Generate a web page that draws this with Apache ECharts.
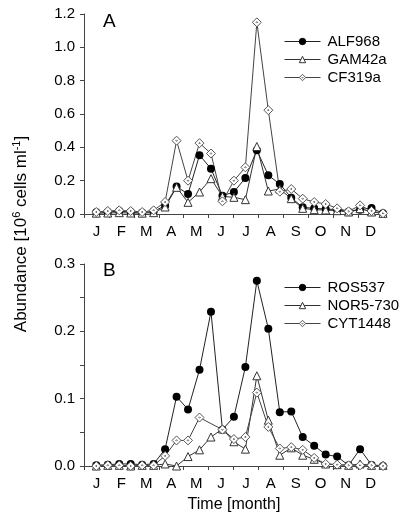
<!DOCTYPE html>
<html><head><meta charset="utf-8">
<script src="https://cdn.jsdelivr.net/npm/echarts@6/dist/echarts.min.js"></script>
<style>html,body{margin:0;padding:0;background:#fff}#c{width:400px;height:521px}</style>
</head><body><div id="c"></div>
<script>
const months = ['J','F','M','A','M','J','J','A','S','O','N','D'];
const days = [15,29,43,57,71,85,99,113,127,141,155,169,183,197,211,225,239,253,267,281,295,309,323,337,351,365];
// Panel A (10^6 cells/ml)
const alf968 = [0.010,0.012,0.018,0.012,0.008,0.015,0.050,0.165,0.120,0.353,0.272,0.110,0.132,0.216,0.383,0.232,0.180,0.098,0.040,0.034,0.030,0.026,0.014,0.026,0.036,0.004];
const gam42a = [0.005,0.006,0.008,0.006,0.005,0.008,0.042,0.160,0.070,0.132,0.212,0.106,0.100,0.086,0.405,0.138,0.150,0.092,0.034,0.026,0.024,0.020,0.012,0.032,0.012,0.004];
const cf319a = [0.012,0.018,0.022,0.018,0.012,0.022,0.072,0.440,0.200,0.425,0.363,0.076,0.200,0.280,1.150,0.623,0.134,0.150,0.092,0.072,0.060,0.034,0.016,0.052,0.018,0.004];
// Panel B
const ros537 = [0.001,0.002,0.003,0.003,0.002,0.003,0.025,0.103,0.084,0.143,0.229,0.054,0.073,0.147,0.275,0.204,0.080,0.081,0.043,0.030,0.017,0.014,0.001,0.025,0.0015,0.000];
const nor5730 = [0.000,0.001,0.001,0.000,0.001,0.001,0.003,0.000,0.014,0.024,0.043,0.055,0.036,0.025,0.134,0.068,0.016,0.027,0.016,0.010,0.003,0.002,0.001,0.003,0.001,0.001];
const cyt1448 = [0.000,0.001,0.001,0.000,0.001,0.001,0.015,0.038,0.038,0.072,null,0.054,0.040,0.043,0.109,0.058,0.026,0.028,0.024,0.012,0.003,0.002,0.001,0.001,0.001,0.000];

const FONT = 'Liberation Sans, Arial, sans-serif';
const pair = arr => days.map((d,i) => [d, arr[i]]);
const diamondPath = 'path://M0,-5L5,0L0,5L-5,0Z M0,-0.8L0.8,0L0,0.8L-0.8,0Z';

function mk(name, data, kind, xi, yi) {
  const s = {name, type:'line', data: pair(data), xAxisIndex: xi, yAxisIndex: yi,
    connectNulls: true, animation: false,
    lineStyle: {color:'#222', width: 1},
    itemStyle: {}, emphasis: {disabled: true}};
  if (kind === 'circle') { s.symbol = 'circle'; s.symbolSize = 8; s.itemStyle = {color:'#000', borderColor:'#000', borderWidth: 0}; }
  if (kind === 'tri') { s.symbol = 'triangle'; s.symbolSize = 8; s.itemStyle = {color:'#fff', borderColor:'#333', borderWidth: 1}; s.lineStyle.color = '#333'; }
  if (kind === 'dia') { s.symbol = diamondPath; s.symbolSize = 9; s.itemStyle = {color:'#fff', borderColor:'#555', borderWidth: 1}; s.lineStyle.color = '#444'; }
  return s;
}

const axisLine = {show:true, lineStyle:{color:'#444', width:1}};
function catAxis(gi) {
  return {type:'category', gridIndex: gi, data: months, boundaryGap: true,
    axisLine, axisTick:{show:true, length:4, lineStyle:{color:'#444'}},
    axisLabel:{color:'#000', fontSize:15, fontFamily: FONT, margin: 10}};
}
function valX(gi) { return {type:'value', gridIndex: gi, min:0, max:365, show:false}; }
function legendCfg(names, top) {
  return {data:names, orient:'vertical', left:279, top:top, itemWidth:36, itemHeight:8, itemGap:3,
    lineStyle:{width:1}, itemStyle:{borderWidth:1},
    textStyle:{color:'#000', fontSize:15, fontFamily: FONT, padding:[0,0,0,2]}, selectedMode:false};
}

const chart = echarts.init(document.getElementById('c'), null, {renderer:'canvas'});
chart.setOption({
  animation: false,
  grid: [
    {left:84, top:14, width:299, height:200},
    {left:84, top:264, width:299, height:202}
  ],
  xAxis: [catAxis(0), valX(0), catAxis(1), valX(1)],
  yAxis: [
    {type:'value', gridIndex:0, min:0, max:1.2, interval:0.2, splitLine:{show:false},
     axisLine, axisTick:{show:true, length:4, lineStyle:{color:'#444'}},
     axisLabel:{color:'#000', fontSize:15, fontFamily: FONT, margin: 9, formatter: v => v.toFixed(1)}},
    {type:'value', gridIndex:1, min:0, max:0.3, interval:0.1, splitLine:{show:false},
     axisLine, axisTick:{show:true, length:4, lineStyle:{color:'#444'}},
     minorTick:{show:true, splitNumber:2, length:4, lineStyle:{color:'#444'}},
     axisLabel:{color:'#000', fontSize:15, fontFamily: FONT, margin: 9, formatter: v => v.toFixed(1)}}
  ],
  legend: [
    legendCfg(['ALF968','GAM42a','CF319a'], 29),
    legendCfg(['ROS537','NOR5-730','CYT1448'], 275)
  ],
  series: [
    mk('ALF968', alf968, 'circle', 1, 0),
    mk('GAM42a', gam42a, 'tri', 1, 0),
    mk('CF319a', cf319a, 'dia', 1, 0),
    mk('ROS537', ros537, 'circle', 3, 1),
    mk('NOR5-730', nor5730, 'tri', 3, 1),
    mk('CYT1448', cyt1448, 'dia', 3, 1)
  ],
  graphic: [
    {type:'text', left:103, top:12, style:{text:'A', fontSize:19, fontFamily: FONT, fill:'#000'}},
    {type:'text', left:103, top:261, style:{text:'B', fontSize:19, fontFamily: FONT, fill:'#000'}},
    {type:'text', x:234, y:505, style:{text:'Time [month]', fontSize:16, fontFamily: FONT, fill:'#000', align:'center', verticalAlign:'middle'}},
    {type:'text', x:21, y:234, rotation: Math.PI/2,
     style:{text:'{n|Abundance [10}{s|6}{n| cells ml}{s|-1}{n|]}', align:'center', verticalAlign:'middle',
       rich:{n:{fontSize:17, fontFamily: FONT, fill:'#000', lineHeight:20},
             s:{fontSize:11, fontFamily: FONT, fill:'#000', verticalAlign:'top', lineHeight:20, padding:[0,0,9,0]}}}}
  ]
});
</script></body></html>
